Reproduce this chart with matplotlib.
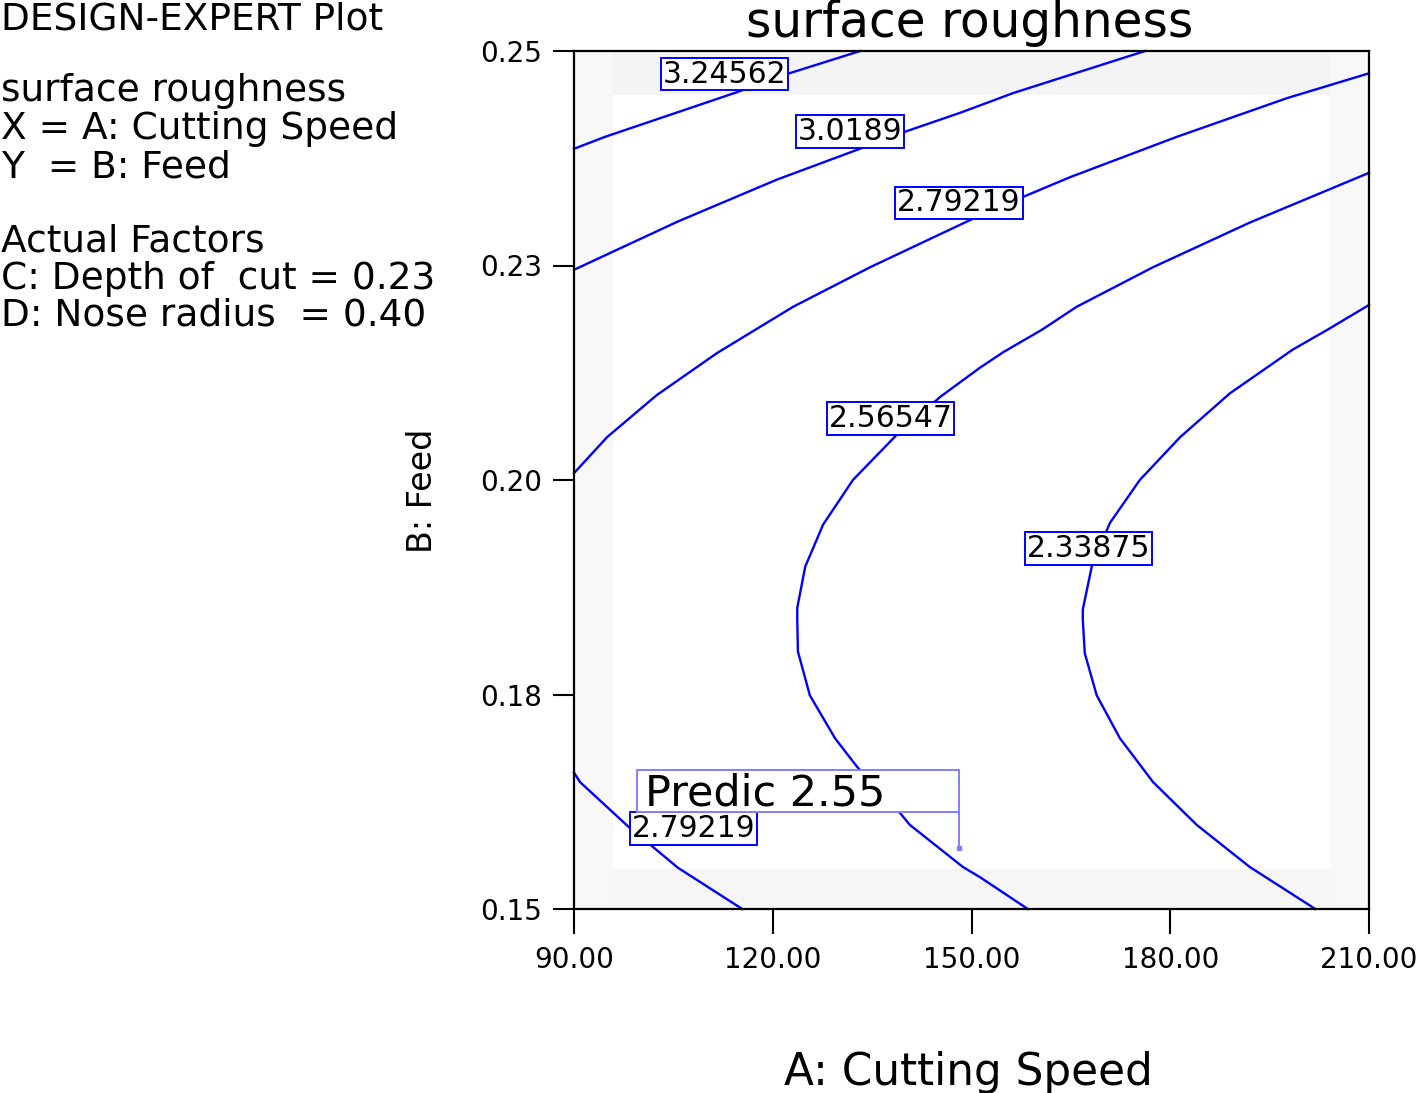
import numpy as np
import matplotlib
matplotlib.use('Agg')
import matplotlib.pyplot as plt
from matplotlib.patches import Rectangle

plt.rcParams['font.family'] = ['DejaVu Sans']

# contour lines: A = cutting speed, B = feed
speed_324 = [90.0, 94.7, 114.6, 122.5, 133.2]
feed_324 = [0.2386, 0.2400, 0.2452, 0.2474, 0.2500]

speed_302 = [90.0, 105.6, 120.6, 133.5, 140.0, 148.3, 156.3, 176.2]
feed_302 = [0.2245, 0.2301, 0.2350, 0.2387, 0.2406, 0.2428, 0.2451, 0.2500]

speed_279_top = [90.0, 95.0, 102.5, 111.6, 123.1, 134.7, 149.8, 157.8, 164.9, 181.0, 197.6, 210.0]
feed_279_top = [0.2008, 0.2050, 0.2099, 0.2148, 0.2202, 0.2248, 0.2303, 0.2330, 0.2353, 0.2400, 0.2445, 0.2474]

speed_257 = [158.5, 151.3, 148.7, 140.7, 139.2, 132.7, 129.4, 125.6, 123.8, 123.7, 123.7, 124.9,
             127.6, 132.1, 138.5, 145.3, 151.3, 154.8, 160.6, 165.9, 177.4, 192.0, 210.0]
feed_257 = [0.1500, 0.1537, 0.1549, 0.1598, 0.1612, 0.1666, 0.1699, 0.1749, 0.1800, 0.1837, 0.1851, 0.1899,
            0.1948, 0.2000, 0.2051, 0.2097, 0.2131, 0.2149, 0.2175, 0.2202, 0.2248, 0.2300, 0.2358]

speed_234 = [201.9, 192.0, 184.0, 177.4, 172.4, 168.9, 167.1, 166.8, 166.8, 168.2, 170.9, 175.4,
             181.5, 189.0, 198.5, 203.7, 210.0]
feed_234 = [0.1500, 0.1549, 0.1598, 0.1648, 0.1699, 0.1749, 0.1798, 0.1837, 0.1849, 0.1901, 0.1950, 0.2000,
            0.2050, 0.2101, 0.2152, 0.2175, 0.2204]

speed_279_low = [90.0, 90.9, 98.2, 101.5, 105.7, 115.4]
feed_279_low = [0.1659, 0.1648, 0.1596, 0.1575, 0.1548, 0.1500]

# contour labels
label_speed = [112.7, 131.7, 148.1, 137.8, 167.7, 108.0]
label_feed = [0.2473, 0.2406, 0.2323, 0.2072, 0.1920, 0.1594]
label_text = ['3.24562', '3.0189', '2.79219', '2.56547', '2.33875', '2.79219']

# prediction flag
pred_value = 2.55
pred_box = (99.5, 0.1613, 148.1, 0.1662)   # x0, y0, x1, y1
pred_point = (148.1, 0.1571)

xticks = [90, 120, 150, 180, 210]
xticklabels = ['90.00', '120.00', '150.00', '180.00', '210.00']
yticks = [0.15, 0.175, 0.20, 0.225, 0.25]
yticklabels = ['0.15', '0.18', '0.20', '0.23', '0.25']

info_lines = ['DESIGN-EXPERT Plot', 'surface roughness', 'X = A: Cutting Speed', 'Y  = B: Feed',
              'Actual Factors', 'C: Depth of  cut = 0.23', 'D: Nose radius  = 0.40']
info_baseline_px = [29, 101, 139, 177, 251, 289, 326]

W, H = 1418, 1093
fig = plt.figure(figsize=(W / 100, H / 100), dpi=100)
ax = fig.add_axes([574 / W, (H - 909) / H, 795 / W, 858 / H])
ax.set_xlim(90, 210)
ax.set_ylim(0.15, 0.25)

# faint shading near the edges of the plot area
ax.axhspan(0.2449, 0.25, color='#f4f4f4', zorder=0, lw=0)
ax.axhspan(0.15, 0.1547, color='#f6f6f6', zorder=0, lw=0)
ax.axvspan(90, 95.9, color='#f8f8f8', zorder=0, lw=0)
ax.axvspan(204.1, 210, color='#f8f8f8', zorder=0, lw=0)

blue = '#0000ff'
for xs, ys in [(speed_324, feed_324), (speed_302, feed_302), (speed_279_top, feed_279_top),
               (speed_257, feed_257), (speed_234, feed_234), (speed_279_low, feed_279_low)]:
    ax.plot(xs, ys, color=blue, lw=1.7, zorder=2, clip_on=False)

for x, y, s in zip(label_speed, label_feed, label_text):
    ax.text(x, y, s, fontsize=21.5, ha='center', va='center', zorder=3,
            bbox=dict(boxstyle='square,pad=0.06', fc='white', ec=blue, lw=1.4))

pc = '#8080ff'
x0, y0, x1, y1 = pred_box
ax.add_patch(Rectangle((x0, y0), x1 - x0, y1 - y0, fc='white', ec=pc, lw=1.4, zorder=4))
ax.text(x0 + 1.2, y0 + 0.0008, f'Predic {pred_value:.2f}', fontsize=31, ha='left', va='baseline', zorder=5)
ax.plot([x1, x1], [y0, pred_point[1]], color=pc, lw=1.4, zorder=4)
ax.plot([pred_point[0]], [pred_point[1]], 's', color=pc, ms=2.5, zorder=4)

ax.set_xticks(xticks)
ax.set_xticklabels(xticklabels)
ax.set_yticks(yticks)
ax.set_yticklabels(yticklabels)
ax.tick_params(axis='x', direction='out', length=18, width=1.5, pad=9, labelsize=20)
ax.tick_params(axis='y', direction='out', length=15, width=1.5, pad=8, labelsize=20)
for sp in ax.spines.values():
    sp.set_linewidth(1.6)
    sp.set_color('black')

# titles and axis labels
fig.text(970 / W, 1 - 37 / H, 'surface roughness', fontsize=35, ha='center', va='baseline')
fig.text(968 / W, 1 - 1085 / H, 'A: Cutting Speed', fontsize=31.5, ha='center', va='baseline')
fig.text(422 / W, 1 - 491 / H, 'B: Feed', fontsize=24, rotation=90, ha='center', va='center')

for line, py in zip(info_lines, info_baseline_px):
    fig.text(1 / W, 1 - py / H, line, fontsize=27, ha='left', va='baseline')

fig.savefig('out.png', dpi=100)
